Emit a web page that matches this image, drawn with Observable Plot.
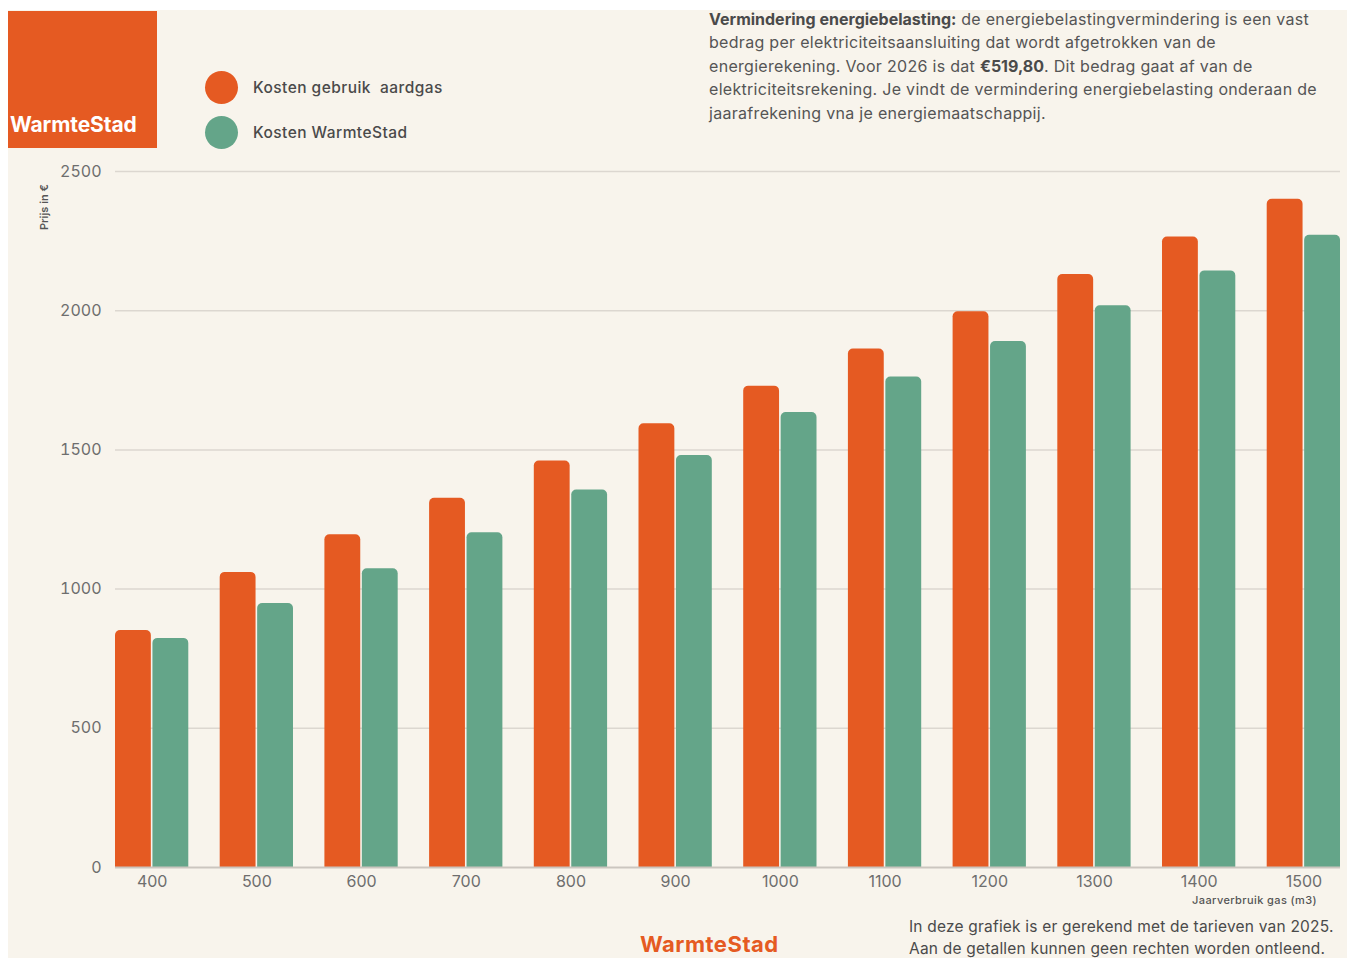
<!DOCTYPE html>
<html>
<head>
<meta charset="utf-8">
<script src="https://cdn.jsdelivr.net/npm/d3@7"></script>
<script src="https://cdn.jsdelivr.net/npm/@observablehq/plot@0.6"></script>
<style>
  html, body { margin: 0; padding: 0; background: #ffffff; }
  #page { position: relative; width: 1351px; height: 958px; overflow: hidden; font-family: Inter, "Noto Sans", sans-serif; }
  #bg { position: absolute; left: 8px; top: 10px; width: 1339px; height: 948px; background: #f8f4ec; }
  #logo { position: absolute; left: 8px; top: 11px; width: 149px; height: 137px; background: #e55a22; }
  #logo span { position: absolute; left: 2px; top: 101px; color: #fff; font-weight: 700; font-size: 21px; letter-spacing: -0.1px; }
  .leg { position: absolute; left: 205px; display: flex; align-items: center; font-size: 15.5px; color: #4a4a4a; font-weight: 500; letter-spacing: 0.45px; }
  .leg i { display: inline-block; width: 33px; height: 33px; border-radius: 50%; margin-right: 15px; }
  #note { position: absolute; left: 709px; top: 8px; font-size: 16px; line-height: 23.4px; color: #555; letter-spacing: 0.3px; white-space: nowrap; }
  #note b { color: #4a4a4a; letter-spacing: 0px; }
  #ylab { position: absolute; left: 44px; top: 207px; transform: translate(-50%, -50%) rotate(-90deg); font-size: 11px; color: #555; font-weight: 600; white-space: nowrap; }
  #xlab { position: absolute; right: 34px; top: 893px; font-size: 11px; color: #555; font-weight: 500; letter-spacing: 0.4px; }
  #foot { position: absolute; left: 909px; top: 916px; font-size: 15.5px; line-height: 21.5px; color: #4a4a4a; letter-spacing: 0.2px; white-space: nowrap; }
  #blogo { position: absolute; left: 640px; top: 931px; font-size: 22px; font-weight: 700; color: #e55a22; letter-spacing: 0.5px; }
  #chart { position: absolute; left: 0; top: 150px; }
</style>
</head>
<body>
<div id="page">
  <div id="bg"></div>
  <div id="logo"><span>WarmteStad</span></div>
  <div class="leg" style="top:71px"><i style="background:#e55a22"></i>Kosten gebruik&nbsp; aardgas</div>
  <div class="leg" style="top:116px"><i style="background:#64a589"></i>Kosten WarmteStad</div>
  <div id="note"><b>Vermindering energiebelasting:</b> de energiebelastingvermindering is een vast<br>bedrag per elektriciteitsaansluiting dat wordt afgetrokken van de<br>energierekening. Voor 2026 is dat <b>€519,80</b>. Dit bedrag gaat af van de<br>elektriciteitsrekening. Je vindt de vermindering energiebelasting onderaan de<br>jaarafrekening vna je energiemaatschappij.</div>
  <div id="ylab">Prijs in €</div>
  <div id="chart"></div>
  <div id="xlab">Jaarverbruik gas (m3)</div>
  <div id="foot">In deze grafiek is er gerekend met de tarieven van 2025.<br>Aan de getallen kunnen geen rechten worden ontleend.</div>
  <div id="blogo">WarmteStad</div>
</div>
<script>
const usage = [400, 500, 600, 700, 800, 900, 1000, 1100, 1200, 1300, 1400, 1500];
const gasCost = [851, 1060, 1195, 1326, 1460, 1594, 1729, 1862, 1996, 2130, 2265, 2400];
const warmteCost = [823, 948, 1073, 1202, 1356, 1480, 1634, 1762, 1889, 2018, 2143, 2271];
const seriesNames = ["Kosten gebruik aardgas", "Kosten WarmteStad"];
const seriesColors = ["#e55a22", "#64a589"];
const yTicks = [0, 500, 1000, 1500, 2000, 2500];

const W = 1351, H = 760, mL = 115, mR = 11, mT = 21, mB = 43;
const padInner = 0.3;
const step = (W - mL - mR) / (usage.length - padInner);
const bw = step * (1 - padInner);
const gap = 1.6;
const inset = bw / 2 + gap / 2;

const gasData = usage.map((u, i) => ({usage: u, value: gasCost[i], series: seriesNames[0]}));
const warmData = usage.map((u, i) => ({usage: u, value: warmteCost[i], series: seriesNames[1]}));

const ver = (Plot.version || "0.6.0").split(".").map(Number);
const newCorners = ver[0] > 0 || ver[1] > 6 || (ver[1] === 6 && ver[2] >= 16);
const corner = newCorners ? {ry1: 5} : {rx: 4};

const chart = Plot.plot({
  width: W, height: H,
  marginLeft: mL, marginRight: mR, marginTop: mT, marginBottom: mB,
  style: {background: "transparent", fontFamily: "Inter, 'Noto Sans', sans-serif", fontSize: "16px", color: "#6e6e6e", overflow: "visible"},
  x: {type: "band", domain: usage, paddingInner: padInner, paddingOuter: 0, round: false, label: null},
  y: {domain: [0, 2500], label: null},
  marks: [
    Plot.ruleY(yTicks.filter(d => d > 0), {stroke: "#dcd7d0", strokeWidth: 1.5}),
    Plot.barY(gasData, {x: "usage", y: "value", fill: seriesColors[0], insetRight: inset, insetLeft: 0, ...corner}),
    Plot.barY(warmData, {x: "usage", y: "value", fill: seriesColors[1], insetLeft: inset, insetRight: 0, ...corner}),
    Plot.ruleY([0], {stroke: "#cbc6bf", strokeWidth: 2}),
    Plot.axisY({ticks: yTicks, tickSize: 0, tickPadding: 14, label: null, tickFormat: d => String(d)}),
    Plot.axisX({tickSize: 0, tickPadding: 8, label: null, tickFormat: d => String(d)})
  ]
});
document.getElementById("chart").appendChild(chart);
</script>
</body>
</html>
